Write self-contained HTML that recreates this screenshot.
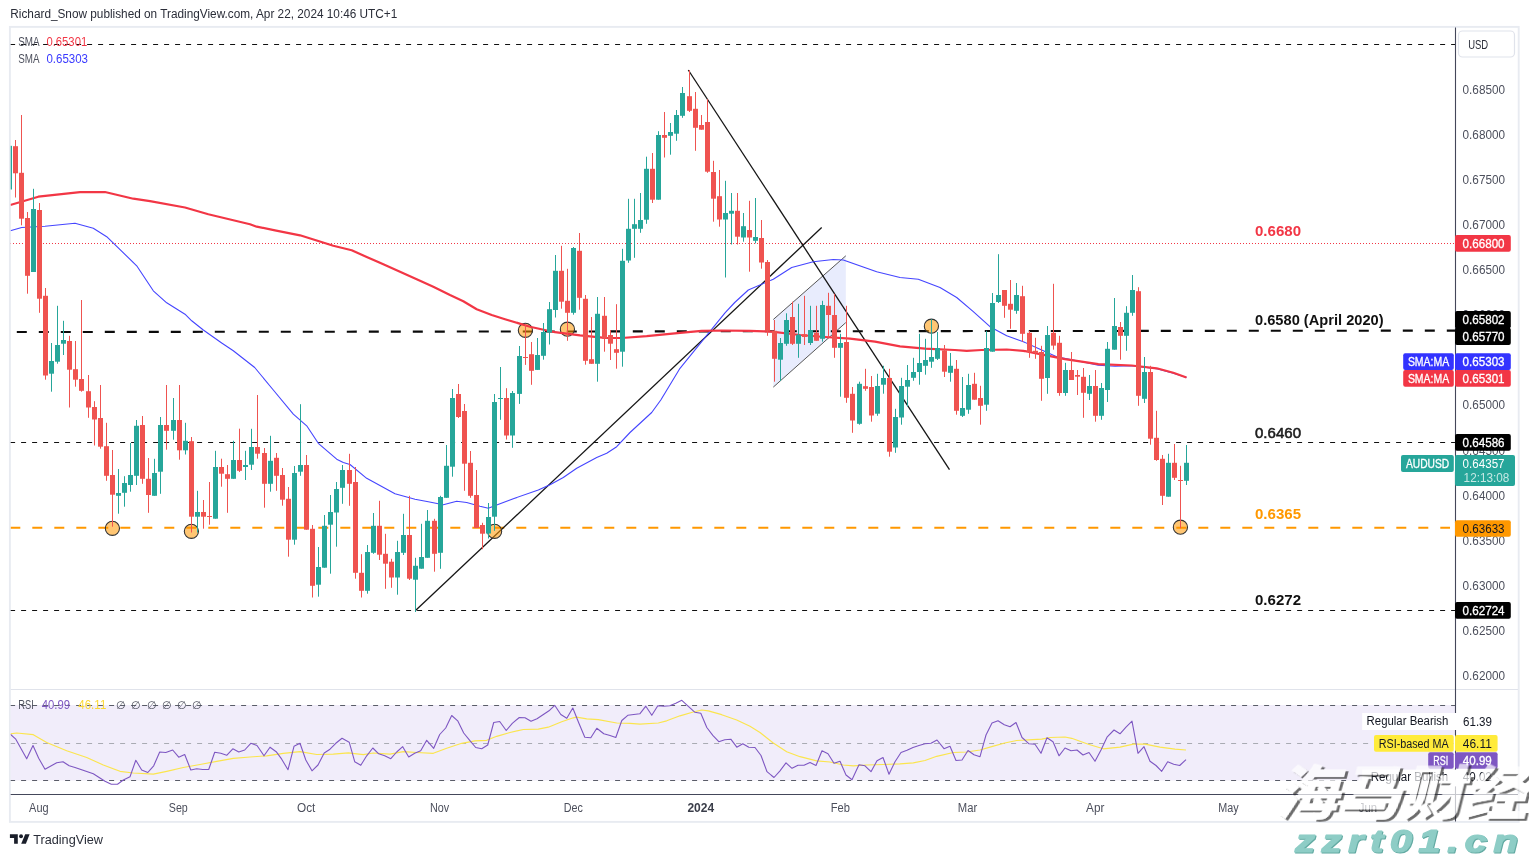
<!DOCTYPE html>
<html><head><meta charset="utf-8"><title>AUDUSD chart</title>
<style>html,body{margin:0;padding:0;background:#fff}svg{display:block}</style></head>
<body>
<svg width="1529" height="857" viewBox="0 0 1529 857" font-family='"Liberation Sans", sans-serif'>
<rect width="1529" height="857" fill="#fff"/>
<filter id="aa" x="0" y="0" width="100%" height="100%" filterUnits="userSpaceOnUse" color-interpolation-filters="sRGB"><feOffset dx="0" dy="0"/></filter>
<g filter="url(#aa)">
<text x="10.3" y="18.2" font-size="12" fill="#2a2d38" textLength="387" lengthAdjust="spacingAndGlyphs">Richard_Snow published on TradingView.com, Apr 22, 2024 10:46 UTC+1</text>
<rect x="9.9" y="26.9" width="1508.8" height="795" fill="none" stroke="#e8ebf1" stroke-width="1.9"/>
<defs><clipPath id="cm"><rect x="10.7" y="27.7" width="1444.3" height="661.5"/></clipPath><clipPath id="cr"><rect x="10.7" y="690" width="1444.3" height="104"/></clipPath></defs>
<rect x="10.7" y="705" width="1444.3" height="75.5" fill="#f1edfa"/>
<g clip-path="url(#cm)">
<line x1="10.1" x2="1455" y1="44.5" y2="44.5" stroke="#111" stroke-width="1.2" stroke-dasharray="5 6"/>
<line x1="10" x2="1455" y1="243.5" y2="243.5" stroke="#f23645" stroke-width="1" stroke-dasharray="1 2"/>
<line x1="10.1" x2="1455" y1="442.5" y2="442.5" stroke="#111" stroke-width="1.2" stroke-dasharray="5 6"/>
<line x1="10.1" x2="1455" y1="610.5" y2="610.5" stroke="#111" stroke-width="1.2" stroke-dasharray="5 6"/>
<polygon points="773.3,319.5 845.8,255.8 845.8,322.6 773.3,387.1" fill="#e8ecfd"/>
<line x1="773.3" y1="319.5" x2="845.8" y2="255.8" stroke="#555" stroke-width="1"/>
<line x1="773.3" y1="387.1" x2="845.8" y2="322.6" stroke="#555" stroke-width="1"/>
<line x1="16.8" x2="1455" y1="332" y2="330.6" stroke="#0a0a0a" stroke-width="2.1" stroke-dasharray="10 12"/>
<line x1="10.3" x2="1450" y1="527.8" y2="527.8" stroke="#ff9800" stroke-width="2" stroke-dasharray="10 12"/>
<line x1="415.8" y1="610.3" x2="821.7" y2="227.5" stroke="#151515" stroke-width="1.3"/>
<line x1="688.3" y1="70" x2="949.5" y2="469.7" stroke="#151515" stroke-width="1.3"/>
<circle cx="112.4" cy="528.3" r="7.1" fill="#ff9800" fill-opacity="0.55" stroke="#333" stroke-width="1.1"/>
<circle cx="191.4" cy="531.3" r="7.1" fill="#ff9800" fill-opacity="0.55" stroke="#333" stroke-width="1.1"/>
<circle cx="494.6" cy="531.3" r="7.1" fill="#ff9800" fill-opacity="0.55" stroke="#333" stroke-width="1.1"/>
<circle cx="525.4" cy="330.3" r="7.1" fill="#ff9800" fill-opacity="0.55" stroke="#333" stroke-width="1.1"/>
<circle cx="567.4" cy="329.2" r="7.1" fill="#ff9800" fill-opacity="0.55" stroke="#333" stroke-width="1.1"/>
<circle cx="931.4" cy="326.2" r="7.1" fill="#ff9800" fill-opacity="0.55" stroke="#333" stroke-width="1.1"/>
<circle cx="1180.4" cy="527.2" r="7.1" fill="#ff9800" fill-opacity="0.55" stroke="#333" stroke-width="1.1"/>
<polyline points="10.3,230.8 21.7,227.5 45.0,226.3 75.0,223.3 93.3,228.3 106.7,236.7 136.7,265.8 153.3,290.8 166.7,302.8 185.0,314.2 191.7,320.8 203.3,330.0 221.7,343.0 233.3,350.8 254.7,367.5 273.3,390.0 293.3,414.2 306.7,425.8 318.3,443.3 336.7,459.2 343.3,462.5 350.0,464.5 366.7,478.3 395.0,493.7 415.0,499.2 428.3,501.7 443.3,504.7 456.7,501.2 466.7,502.5 480.0,506.2 488.3,508.3 496.7,505.0 513.3,498.7 538.3,490.0 550.0,484.7 563.3,477.5 576.7,468.3 596.7,457.5 606.7,453.3 616.7,446.7 630.0,432.5 651.7,412.5 660.8,400.0 680.0,368.3 701.7,341.7 725.0,312.8 734.7,302.5 748.3,290.0 773.3,279.2 791.7,267.5 813.3,261.7 833.3,259.5 843.3,260.0 876.7,271.7 900.0,277.5 918.3,279.2 940.0,287.5 956.7,297.5 973.3,311.7 990.0,326.7 1006.7,335.8 1023.3,341.7 1040.0,349.2 1056.7,356.7 1073.3,360.0 1098.3,365.3 1115.0,366.2 1131.7,365.8 1156.7,368.7 1173.3,373.3 1186.5,377.5" fill="none" stroke="#4545ff" stroke-width="1.1" stroke-linejoin="round"/>
<polyline points="10.3,205.0 38.3,196.7 80.0,192.2 105.0,192.0 133.3,198.7 150.0,201.2 185.0,207.5 208.3,214.2 250.0,224.2 256.7,226.7 275.0,230.3 300.0,235.3 316.7,240.5 333.3,245.8 351.7,250.3 366.7,257.0 383.3,264.2 400.0,271.7 416.7,279.2 433.3,286.7 450.0,295.0 463.3,301.2 476.7,309.2 491.7,315.0 505.0,319.2 530.0,326.7 555.0,332.2 580.0,335.3 605.0,337.8 621.7,338.0 646.7,336.2 680.0,332.8 701.7,330.8 721.7,330.5 750.0,330.8 771.7,331.7 800.0,335.0 825.0,337.0 850.0,338.7 875.0,341.7 900.0,346.3 925.0,348.7 954.7,350.0 966.7,350.8 981.7,350.0 1006.7,349.5 1023.3,350.8 1040.0,354.2 1065.0,359.2 1098.3,364.2 1131.7,365.5 1156.7,368.3 1173.3,372.8 1186.5,377.5" fill="none" stroke="#f23645" stroke-width="2.2" stroke-linejoin="round"/>
<path d="M15.5 140.0V197.5" stroke="#ef5350" stroke-width="1"/><rect x="13" y="146.2" width="5" height="27.1" fill="#ef5350"/>
<path d="M21.5 115.0V225.3" stroke="#ef5350" stroke-width="1"/><rect x="19" y="172.8" width="5" height="45.9" fill="#ef5350"/>
<path d="M27.5 212.0V293.7" stroke="#ef5350" stroke-width="1"/><rect x="25" y="218.0" width="5" height="57.8" fill="#ef5350"/>
<path d="M33.5 188.8V272.0" stroke="#26a69a" stroke-width="1"/><rect x="31" y="209.0" width="5" height="63.0" fill="#26a69a"/>
<path d="M39.5 203.0V312.8" stroke="#ef5350" stroke-width="1"/><rect x="37" y="210.0" width="5" height="88.7" fill="#ef5350"/>
<path d="M45.5 288.0V379.7" stroke="#ef5350" stroke-width="1"/><rect x="43" y="295.8" width="5" height="79.7" fill="#ef5350"/>
<path d="M51.5 343.0V391.7" stroke="#26a69a" stroke-width="1"/><rect x="49" y="361.0" width="5" height="12.7" fill="#26a69a"/>
<path d="M57.5 305.8V363.7" stroke="#26a69a" stroke-width="1"/><rect x="55" y="345.0" width="5" height="16.7" fill="#26a69a"/>
<path d="M63.5 320.8V355.0" stroke="#26a69a" stroke-width="1"/><rect x="61" y="340.0" width="5" height="3.7" fill="#26a69a"/>
<path d="M69.5 335.8V407.5" stroke="#ef5350" stroke-width="1"/><rect x="67" y="341.0" width="5" height="28.7" fill="#ef5350"/>
<path d="M75.5 341.0V386.7" stroke="#ef5350" stroke-width="1"/><rect x="73" y="369.2" width="5" height="10.5" fill="#ef5350"/>
<path d="M81.5 300.0V391.7" stroke="#ef5350" stroke-width="1"/><rect x="79" y="379.0" width="5" height="11.8" fill="#ef5350"/>
<path d="M88.5 375.0V417.8" stroke="#ef5350" stroke-width="1"/><rect x="86" y="391.2" width="5" height="16.3" fill="#ef5350"/>
<path d="M94.5 401.2V445.5" stroke="#ef5350" stroke-width="1"/><rect x="92" y="407.0" width="5" height="12.5" fill="#ef5350"/>
<path d="M100.5 385.0V448.7" stroke="#ef5350" stroke-width="1"/><rect x="98" y="418.0" width="5" height="28.7" fill="#ef5350"/>
<path d="M106.5 422.8V480.8" stroke="#ef5350" stroke-width="1"/><rect x="104" y="446.2" width="5" height="29.6" fill="#ef5350"/>
<path d="M112.5 450.0V526.7" stroke="#ef5350" stroke-width="1"/><rect x="110" y="475.0" width="5" height="19.7" fill="#ef5350"/>
<path d="M118.5 469.0V513.7" stroke="#26a69a" stroke-width="1"/><rect x="116" y="493.0" width="5" height="2.8" fill="#26a69a"/>
<path d="M124.5 476.2V506.7" stroke="#26a69a" stroke-width="1"/><rect x="122" y="483.0" width="5" height="9.8" fill="#26a69a"/>
<path d="M130.5 443.0V491.7" stroke="#26a69a" stroke-width="1"/><rect x="128" y="475.0" width="5" height="10.0" fill="#26a69a"/>
<path d="M136.5 420.0V485.0" stroke="#26a69a" stroke-width="1"/><rect x="134" y="425.8" width="5" height="50.0" fill="#26a69a"/>
<path d="M142.5 416.0V483.8" stroke="#ef5350" stroke-width="1"/><rect x="140" y="425.0" width="5" height="53.8" fill="#ef5350"/>
<path d="M148.5 458.0V512.8" stroke="#ef5350" stroke-width="1"/><rect x="146" y="478.8" width="5" height="16.2" fill="#ef5350"/>
<path d="M154.5 458.8V495.8" stroke="#26a69a" stroke-width="1"/><rect x="152" y="473.0" width="5" height="22.8" fill="#26a69a"/>
<path d="M160.5 417.0V493.8" stroke="#26a69a" stroke-width="1"/><rect x="158" y="425.0" width="5" height="46.7" fill="#26a69a"/>
<path d="M166.5 385.0V449.7" stroke="#ef5350" stroke-width="1"/><rect x="164" y="425.0" width="5" height="5.8" fill="#ef5350"/>
<path d="M173.5 398.0V439.7" stroke="#26a69a" stroke-width="1"/><rect x="171" y="420.0" width="5" height="10.8" fill="#26a69a"/>
<path d="M179.5 385.0V459.7" stroke="#ef5350" stroke-width="1"/><rect x="177" y="420.0" width="5" height="30.3" fill="#ef5350"/>
<path d="M185.5 422.8V454.5" stroke="#26a69a" stroke-width="1"/><rect x="183" y="440.8" width="5" height="9.5" fill="#26a69a"/>
<path d="M191.5 437.0V532.5" stroke="#ef5350" stroke-width="1"/><rect x="189" y="441.2" width="5" height="75.5" fill="#ef5350"/>
<path d="M197.5 490.8V532.5" stroke="#26a69a" stroke-width="1"/><rect x="195" y="512.0" width="5" height="4.7" fill="#26a69a"/>
<path d="M203.5 500.0V528.7" stroke="#ef5350" stroke-width="1"/><rect x="201" y="512.0" width="5" height="4.7" fill="#ef5350"/>
<path d="M209.5 482.0V524.7" stroke="#ef5350" stroke-width="1"/><rect x="207" y="516.0" width="5" height="1.0" fill="#ef5350"/>
<path d="M215.5 450.8V518.7" stroke="#26a69a" stroke-width="1"/><rect x="213" y="467.0" width="5" height="51.7" fill="#26a69a"/>
<path d="M221.5 458.7V486.7" stroke="#ef5350" stroke-width="1"/><rect x="219" y="467.0" width="5" height="6.7" fill="#ef5350"/>
<path d="M227.5 465.0V512.8" stroke="#ef5350" stroke-width="1"/><rect x="225" y="474.2" width="5" height="4.6" fill="#ef5350"/>
<path d="M233.5 440.8V478.8" stroke="#26a69a" stroke-width="1"/><rect x="231" y="460.0" width="5" height="18.8" fill="#26a69a"/>
<path d="M239.5 428.7V472.0" stroke="#ef5350" stroke-width="1"/><rect x="237" y="460.0" width="5" height="10.8" fill="#ef5350"/>
<path d="M245.5 450.8V480.0" stroke="#26a69a" stroke-width="1"/><rect x="243" y="465.0" width="5" height="2.0" fill="#26a69a"/>
<path d="M251.5 428.8V470.0" stroke="#26a69a" stroke-width="1"/><rect x="249" y="447.0" width="5" height="17.7" fill="#26a69a"/>
<path d="M257.5 395.0V458.7" stroke="#ef5350" stroke-width="1"/><rect x="255" y="447.0" width="5" height="6.7" fill="#ef5350"/>
<path d="M264.5 448.0V507.7" stroke="#ef5350" stroke-width="1"/><rect x="262" y="453.0" width="5" height="30.8" fill="#ef5350"/>
<path d="M270.5 435.8V491.7" stroke="#26a69a" stroke-width="1"/><rect x="268" y="460.8" width="5" height="23.0" fill="#26a69a"/>
<path d="M276.5 453.0V490.8" stroke="#ef5350" stroke-width="1"/><rect x="274" y="457.8" width="5" height="18.0" fill="#ef5350"/>
<path d="M282.5 468.0V505.7" stroke="#ef5350" stroke-width="1"/><rect x="280" y="475.0" width="5" height="24.7" fill="#ef5350"/>
<path d="M288.5 487.0V556.7" stroke="#ef5350" stroke-width="1"/><rect x="286" y="498.8" width="5" height="40.9" fill="#ef5350"/>
<path d="M294.5 466.0V544.7" stroke="#26a69a" stroke-width="1"/><rect x="292" y="473.0" width="5" height="66.7" fill="#26a69a"/>
<path d="M300.5 404.2V475.8" stroke="#26a69a" stroke-width="1"/><rect x="298" y="465.0" width="5" height="6.7" fill="#26a69a"/>
<path d="M306.5 455.0V529.7" stroke="#ef5350" stroke-width="1"/><rect x="304" y="465.0" width="5" height="64.7" fill="#ef5350"/>
<path d="M312.5 525.0V597.5" stroke="#ef5350" stroke-width="1"/><rect x="310" y="528.8" width="5" height="57.0" fill="#ef5350"/>
<path d="M318.5 547.0V596.7" stroke="#26a69a" stroke-width="1"/><rect x="316" y="567.0" width="5" height="17.7" fill="#26a69a"/>
<path d="M324.5 515.0V567.7" stroke="#26a69a" stroke-width="1"/><rect x="322" y="525.8" width="5" height="41.9" fill="#26a69a"/>
<path d="M330.5 495.0V573.7" stroke="#26a69a" stroke-width="1"/><rect x="328" y="512.0" width="5" height="12.7" fill="#26a69a"/>
<path d="M336.5 482.0V546.7" stroke="#26a69a" stroke-width="1"/><rect x="334" y="489.0" width="5" height="23.5" fill="#26a69a"/>
<path d="M342.5 465.0V503.8" stroke="#26a69a" stroke-width="1"/><rect x="340" y="470.0" width="5" height="17.8" fill="#26a69a"/>
<path d="M349.5 453.8V505.8" stroke="#ef5350" stroke-width="1"/><rect x="347" y="470.0" width="5" height="13.8" fill="#ef5350"/>
<path d="M355.5 467.0V578.7" stroke="#ef5350" stroke-width="1"/><rect x="353" y="482.0" width="5" height="90.8" fill="#ef5350"/>
<path d="M361.5 554.2V597.5" stroke="#ef5350" stroke-width="1"/><rect x="359" y="572.8" width="5" height="18.0" fill="#ef5350"/>
<path d="M367.5 545.0V593.7" stroke="#26a69a" stroke-width="1"/><rect x="365" y="552.0" width="5" height="38.8" fill="#26a69a"/>
<path d="M373.5 513.0V553.8" stroke="#26a69a" stroke-width="1"/><rect x="371" y="525.8" width="5" height="27.0" fill="#26a69a"/>
<path d="M379.5 500.8V560.0" stroke="#ef5350" stroke-width="1"/><rect x="377" y="525.8" width="5" height="28.9" fill="#ef5350"/>
<path d="M385.5 533.8V588.8" stroke="#ef5350" stroke-width="1"/><rect x="383" y="553.8" width="5" height="9.9" fill="#ef5350"/>
<path d="M391.5 558.8V587.8" stroke="#ef5350" stroke-width="1"/><rect x="389" y="561.7" width="5" height="15.8" fill="#ef5350"/>
<path d="M397.5 540.8V594.7" stroke="#26a69a" stroke-width="1"/><rect x="395" y="552.0" width="5" height="25.5" fill="#26a69a"/>
<path d="M403.5 513.8V555.0" stroke="#26a69a" stroke-width="1"/><rect x="401" y="535.0" width="5" height="17.8" fill="#26a69a"/>
<path d="M409.5 495.8V580.0" stroke="#ef5350" stroke-width="1"/><rect x="407" y="535.0" width="5" height="43.7" fill="#ef5350"/>
<path d="M415.5 557.8V612.0" stroke="#26a69a" stroke-width="1"/><rect x="413" y="565.8" width="5" height="13.9" fill="#26a69a"/>
<path d="M421.5 523.8V568.7" stroke="#26a69a" stroke-width="1"/><rect x="419" y="557.0" width="5" height="11.7" fill="#26a69a"/>
<path d="M427.5 510.0V557.8" stroke="#26a69a" stroke-width="1"/><rect x="425" y="520.8" width="5" height="37.0" fill="#26a69a"/>
<path d="M434.5 518.8V571.7" stroke="#ef5350" stroke-width="1"/><rect x="432" y="520.8" width="5" height="33.0" fill="#ef5350"/>
<path d="M440.5 495.8V568.8" stroke="#26a69a" stroke-width="1"/><rect x="438" y="497.0" width="5" height="55.8" fill="#26a69a"/>
<path d="M446.5 445.0V497.8" stroke="#26a69a" stroke-width="1"/><rect x="444" y="465.8" width="5" height="32.0" fill="#26a69a"/>
<path d="M452.5 389.0V476.7" stroke="#26a69a" stroke-width="1"/><rect x="450" y="398.0" width="5" height="68.7" fill="#26a69a"/>
<path d="M458.5 384.0V418.0" stroke="#ef5350" stroke-width="1"/><rect x="456" y="394.0" width="5" height="23.0" fill="#ef5350"/>
<path d="M464.5 404.0V490.8" stroke="#ef5350" stroke-width="1"/><rect x="462" y="411.0" width="5" height="52.7" fill="#ef5350"/>
<path d="M470.5 451.0V497.8" stroke="#ef5350" stroke-width="1"/><rect x="468" y="462.8" width="5" height="33.0" fill="#ef5350"/>
<path d="M476.5 470.0V528.0" stroke="#ef5350" stroke-width="1"/><rect x="474" y="495.0" width="5" height="33.0" fill="#ef5350"/>
<path d="M482.5 522.8V549.2" stroke="#ef5350" stroke-width="1"/><rect x="480" y="525.0" width="5" height="8.7" fill="#ef5350"/>
<path d="M488.5 503.0V538.5" stroke="#26a69a" stroke-width="1"/><rect x="486" y="517.0" width="5" height="16.5" fill="#26a69a"/>
<path d="M494.5 394.0V530.8" stroke="#26a69a" stroke-width="1"/><rect x="492" y="402.0" width="5" height="114.7" fill="#26a69a"/>
<path d="M500.5 367.0V419.8" stroke="#26a69a" stroke-width="1"/><rect x="498" y="398.0" width="5" height="1.0" fill="#26a69a"/>
<path d="M506.5 388.2V439.5" stroke="#ef5350" stroke-width="1"/><rect x="504" y="398.0" width="5" height="37.5" fill="#ef5350"/>
<path d="M512.5 391.0V447.8" stroke="#26a69a" stroke-width="1"/><rect x="510" y="393.0" width="5" height="42.5" fill="#26a69a"/>
<path d="M519.5 346.0V403.9" stroke="#26a69a" stroke-width="1"/><rect x="517" y="356.0" width="5" height="37.9" fill="#26a69a"/>
<path d="M525.5 325.0V364.9" stroke="#ef5350" stroke-width="1"/><rect x="523" y="357.0" width="5" height="1.0" fill="#ef5350"/>
<path d="M531.5 342.0V384.8" stroke="#ef5350" stroke-width="1"/><rect x="529" y="354.2" width="5" height="16.6" fill="#ef5350"/>
<path d="M537.5 338.0V369.9" stroke="#26a69a" stroke-width="1"/><rect x="535" y="355.0" width="5" height="14.9" fill="#26a69a"/>
<path d="M543.5 323.0V359.7" stroke="#26a69a" stroke-width="1"/><rect x="541" y="332.0" width="5" height="23.8" fill="#26a69a"/>
<path d="M549.5 302.0V344.5" stroke="#26a69a" stroke-width="1"/><rect x="547" y="309.2" width="5" height="23.3" fill="#26a69a"/>
<path d="M555.5 255.0V317.5" stroke="#26a69a" stroke-width="1"/><rect x="553" y="270.8" width="5" height="39.2" fill="#26a69a"/>
<path d="M561.5 245.8V308.7" stroke="#ef5350" stroke-width="1"/><rect x="559" y="270.8" width="5" height="30.9" fill="#ef5350"/>
<path d="M567.5 268.8V340.8" stroke="#ef5350" stroke-width="1"/><rect x="565" y="300.8" width="5" height="12.0" fill="#ef5350"/>
<path d="M573.5 247.0V314.7" stroke="#26a69a" stroke-width="1"/><rect x="571" y="248.0" width="5" height="64.8" fill="#26a69a"/>
<path d="M579.5 233.0V309.7" stroke="#ef5350" stroke-width="1"/><rect x="577" y="250.8" width="5" height="47.0" fill="#ef5350"/>
<path d="M585.5 295.0V364.7" stroke="#ef5350" stroke-width="1"/><rect x="583" y="298.8" width="5" height="62.0" fill="#ef5350"/>
<path d="M591.5 317.0V363.8" stroke="#ef5350" stroke-width="1"/><rect x="589" y="359.2" width="5" height="4.6" fill="#ef5350"/>
<path d="M597.5 297.0V381.7" stroke="#26a69a" stroke-width="1"/><rect x="595" y="313.8" width="5" height="50.0" fill="#26a69a"/>
<path d="M604.5 297.0V351.7" stroke="#ef5350" stroke-width="1"/><rect x="602" y="315.8" width="5" height="22.9" fill="#ef5350"/>
<path d="M610.5 330.0V360.0" stroke="#ef5350" stroke-width="1"/><rect x="608" y="335.0" width="5" height="8.7" fill="#ef5350"/>
<path d="M616.5 304.2V368.7" stroke="#ef5350" stroke-width="1"/><rect x="614" y="349.2" width="5" height="3.6" fill="#ef5350"/>
<path d="M622.5 248.8V366.7" stroke="#26a69a" stroke-width="1"/><rect x="620" y="260.8" width="5" height="90.9" fill="#26a69a"/>
<path d="M628.5 198.8V262.8" stroke="#26a69a" stroke-width="1"/><rect x="626" y="228.8" width="5" height="31.7" fill="#26a69a"/>
<path d="M634.5 198.8V257.8" stroke="#26a69a" stroke-width="1"/><rect x="632" y="224.2" width="5" height="4.6" fill="#26a69a"/>
<path d="M640.5 193.0V232.8" stroke="#26a69a" stroke-width="1"/><rect x="638" y="220.0" width="5" height="8.8" fill="#26a69a"/>
<path d="M646.5 156.7V223.8" stroke="#26a69a" stroke-width="1"/><rect x="644" y="168.8" width="5" height="50.9" fill="#26a69a"/>
<path d="M652.5 153.0V203.0" stroke="#ef5350" stroke-width="1"/><rect x="650" y="168.8" width="5" height="30.9" fill="#ef5350"/>
<path d="M658.5 131.2V199.7" stroke="#26a69a" stroke-width="1"/><rect x="656" y="135.0" width="5" height="64.7" fill="#26a69a"/>
<path d="M664.5 112.0V157.5" stroke="#ef5350" stroke-width="1"/><rect x="662" y="135.0" width="5" height="2.8" fill="#ef5350"/>
<path d="M670.5 123.0V154.7" stroke="#26a69a" stroke-width="1"/><rect x="668" y="132.0" width="5" height="3.8" fill="#26a69a"/>
<path d="M676.5 110.0V140.8" stroke="#26a69a" stroke-width="1"/><rect x="674" y="115.0" width="5" height="18.7" fill="#26a69a"/>
<path d="M682.5 87.0V117.8" stroke="#26a69a" stroke-width="1"/><rect x="680" y="93.0" width="5" height="22.8" fill="#26a69a"/>
<path d="M689.5 70.0V112.0" stroke="#ef5350" stroke-width="1"/><rect x="687" y="96.2" width="5" height="14.6" fill="#ef5350"/>
<path d="M695.5 92.0V150.8" stroke="#ef5350" stroke-width="1"/><rect x="693" y="108.8" width="5" height="19.0" fill="#ef5350"/>
<path d="M701.5 115.0V129.7" stroke="#ef5350" stroke-width="1"/><rect x="699" y="125.0" width="5" height="4.7" fill="#ef5350"/>
<path d="M707.5 99.2V172.8" stroke="#ef5350" stroke-width="1"/><rect x="705" y="122.0" width="5" height="49.7" fill="#ef5350"/>
<path d="M713.5 160.8V221.7" stroke="#ef5350" stroke-width="1"/><rect x="711" y="172.0" width="5" height="26.7" fill="#ef5350"/>
<path d="M719.5 170.0V226.7" stroke="#ef5350" stroke-width="1"/><rect x="717" y="196.2" width="5" height="23.3" fill="#ef5350"/>
<path d="M725.5 180.8V277.5" stroke="#26a69a" stroke-width="1"/><rect x="723" y="213.0" width="5" height="6.5" fill="#26a69a"/>
<path d="M731.5 193.0V244.5" stroke="#26a69a" stroke-width="1"/><rect x="729" y="210.8" width="5" height="2.9" fill="#26a69a"/>
<path d="M737.5 193.0V244.5" stroke="#ef5350" stroke-width="1"/><rect x="735" y="210.8" width="5" height="25.9" fill="#ef5350"/>
<path d="M743.5 213.0V241.7" stroke="#26a69a" stroke-width="1"/><rect x="741" y="226.2" width="5" height="11.3" fill="#26a69a"/>
<path d="M749.5 200.8V271.7" stroke="#ef5350" stroke-width="1"/><rect x="747" y="230.0" width="5" height="7.5" fill="#ef5350"/>
<path d="M755.5 198.0V243.3" stroke="#26a69a" stroke-width="1"/><rect x="753" y="237.0" width="5" height="3.8" fill="#26a69a"/>
<path d="M761.5 220.0V268.7" stroke="#ef5350" stroke-width="1"/><rect x="759" y="238.0" width="5" height="24.5" fill="#ef5350"/>
<path d="M767.5 260.0V335.8" stroke="#ef5350" stroke-width="1"/><rect x="765" y="262.0" width="5" height="68.8" fill="#ef5350"/>
<path d="M774.5 320.0V381.7" stroke="#ef5350" stroke-width="1"/><rect x="772" y="330.8" width="5" height="28.0" fill="#ef5350"/>
<path d="M780.5 338.0V380.8" stroke="#26a69a" stroke-width="1"/><rect x="778" y="343.0" width="5" height="16.7" fill="#26a69a"/>
<path d="M786.5 313.3V345.8" stroke="#26a69a" stroke-width="1"/><rect x="784" y="320.0" width="5" height="23.8" fill="#26a69a"/>
<path d="M792.5 301.7V345.0" stroke="#ef5350" stroke-width="1"/><rect x="790" y="317.0" width="5" height="26.8" fill="#ef5350"/>
<path d="M798.5 303.8V357.8" stroke="#26a69a" stroke-width="1"/><rect x="796" y="334.7" width="5" height="9.1" fill="#26a69a"/>
<path d="M804.5 295.8V345.0" stroke="#ef5350" stroke-width="1"/><rect x="802" y="334.2" width="5" height="2.8" fill="#ef5350"/>
<path d="M810.5 305.8V345.0" stroke="#26a69a" stroke-width="1"/><rect x="808" y="330.0" width="5" height="13.0" fill="#26a69a"/>
<path d="M816.5 305.8V340.8" stroke="#ef5350" stroke-width="1"/><rect x="814" y="332.8" width="5" height="8.0" fill="#ef5350"/>
<path d="M822.5 300.8V341.7" stroke="#26a69a" stroke-width="1"/><rect x="820" y="305.0" width="5" height="33.8" fill="#26a69a"/>
<path d="M828.5 292.8V338.3" stroke="#ef5350" stroke-width="1"/><rect x="826" y="305.8" width="5" height="9.2" fill="#ef5350"/>
<path d="M834.5 293.8V357.8" stroke="#ef5350" stroke-width="1"/><rect x="832" y="315.0" width="5" height="32.8" fill="#ef5350"/>
<path d="M840.5 333.8V396.7" stroke="#26a69a" stroke-width="1"/><rect x="838" y="343.0" width="5" height="4.8" fill="#26a69a"/>
<path d="M846.5 305.8V402.8" stroke="#ef5350" stroke-width="1"/><rect x="844" y="342.0" width="5" height="55.8" fill="#ef5350"/>
<path d="M852.5 387.0V432.8" stroke="#ef5350" stroke-width="1"/><rect x="850" y="393.8" width="5" height="26.7" fill="#ef5350"/>
<path d="M859.5 381.7V424.7" stroke="#26a69a" stroke-width="1"/><rect x="857" y="383.8" width="5" height="40.0" fill="#26a69a"/>
<path d="M865.5 368.8V390.8" stroke="#ef5350" stroke-width="1"/><rect x="863" y="386.2" width="5" height="2.6" fill="#ef5350"/>
<path d="M871.5 376.0V421.7" stroke="#ef5350" stroke-width="1"/><rect x="869" y="387.0" width="5" height="28.5" fill="#ef5350"/>
<path d="M877.5 373.8V415.8" stroke="#26a69a" stroke-width="1"/><rect x="875" y="386.0" width="5" height="27.7" fill="#26a69a"/>
<path d="M883.5 365.8V393.7" stroke="#26a69a" stroke-width="1"/><rect x="881" y="378.0" width="5" height="6.7" fill="#26a69a"/>
<path d="M889.5 368.8V456.7" stroke="#ef5350" stroke-width="1"/><rect x="887" y="378.0" width="5" height="73.7" fill="#ef5350"/>
<path d="M895.5 408.8V452.8" stroke="#26a69a" stroke-width="1"/><rect x="893" y="417.0" width="5" height="30.5" fill="#26a69a"/>
<path d="M901.5 377.8V424.7" stroke="#26a69a" stroke-width="1"/><rect x="899" y="386.0" width="5" height="31.5" fill="#26a69a"/>
<path d="M907.5 365.0V406.7" stroke="#26a69a" stroke-width="1"/><rect x="905" y="380.0" width="5" height="6.7" fill="#26a69a"/>
<path d="M913.5 357.8V380.8" stroke="#26a69a" stroke-width="1"/><rect x="911" y="372.0" width="5" height="5.8" fill="#26a69a"/>
<path d="M919.5 333.8V384.7" stroke="#26a69a" stroke-width="1"/><rect x="917" y="363.0" width="5" height="9.0" fill="#26a69a"/>
<path d="M925.5 338.8V374.7" stroke="#26a69a" stroke-width="1"/><rect x="923" y="360.0" width="5" height="5.8" fill="#26a69a"/>
<path d="M931.5 319.2V367.8" stroke="#26a69a" stroke-width="1"/><rect x="929" y="357.0" width="5" height="4.7" fill="#26a69a"/>
<path d="M937.5 332.0V360.0" stroke="#26a69a" stroke-width="1"/><rect x="935" y="348.0" width="5" height="10.8" fill="#26a69a"/>
<path d="M944.5 345.0V377.0" stroke="#ef5350" stroke-width="1"/><rect x="942" y="350.4" width="5" height="21.3" fill="#ef5350"/>
<path d="M950.5 353.0V381.7" stroke="#26a69a" stroke-width="1"/><rect x="948" y="365.8" width="5" height="7.0" fill="#26a69a"/>
<path d="M956.5 360.0V414.7" stroke="#ef5350" stroke-width="1"/><rect x="954" y="368.8" width="5" height="42.0" fill="#ef5350"/>
<path d="M962.5 377.0V417.0" stroke="#26a69a" stroke-width="1"/><rect x="960" y="408.0" width="5" height="7.8" fill="#26a69a"/>
<path d="M968.5 373.8V413.8" stroke="#26a69a" stroke-width="1"/><rect x="966" y="385.0" width="5" height="24.7" fill="#26a69a"/>
<path d="M974.5 372.8V399.7" stroke="#ef5350" stroke-width="1"/><rect x="972" y="383.8" width="5" height="15.9" fill="#ef5350"/>
<path d="M980.5 385.8V424.7" stroke="#ef5350" stroke-width="1"/><rect x="978" y="398.0" width="5" height="7.8" fill="#ef5350"/>
<path d="M986.5 330.8V410.8" stroke="#26a69a" stroke-width="1"/><rect x="984" y="348.0" width="5" height="56.7" fill="#26a69a"/>
<path d="M992.5 293.0V351.7" stroke="#26a69a" stroke-width="1"/><rect x="990" y="303.0" width="5" height="48.7" fill="#26a69a"/>
<path d="M998.5 254.2V303.0" stroke="#26a69a" stroke-width="1"/><rect x="996" y="295.0" width="5" height="7.0" fill="#26a69a"/>
<path d="M1004.5 290.0V317.8" stroke="#ef5350" stroke-width="1"/><rect x="1002" y="290.0" width="5" height="15.8" fill="#ef5350"/>
<path d="M1010.5 280.0V328.8" stroke="#ef5350" stroke-width="1"/><rect x="1008" y="303.8" width="5" height="5.9" fill="#ef5350"/>
<path d="M1016.5 283.0V313.8" stroke="#26a69a" stroke-width="1"/><rect x="1014" y="295.0" width="5" height="15.8" fill="#26a69a"/>
<path d="M1022.5 285.8V341.7" stroke="#ef5350" stroke-width="1"/><rect x="1020" y="296.2" width="5" height="37.6" fill="#ef5350"/>
<path d="M1029.5 330.8V357.8" stroke="#ef5350" stroke-width="1"/><rect x="1027" y="332.8" width="5" height="19.2" fill="#ef5350"/>
<path d="M1035.5 337.8V358.8" stroke="#ef5350" stroke-width="1"/><rect x="1033" y="350.8" width="5" height="2.0" fill="#ef5350"/>
<path d="M1041.5 345.8V400.8" stroke="#ef5350" stroke-width="1"/><rect x="1039" y="352.0" width="5" height="26.8" fill="#ef5350"/>
<path d="M1047.5 326.0V393.8" stroke="#26a69a" stroke-width="1"/><rect x="1045" y="335.0" width="5" height="43.0" fill="#26a69a"/>
<path d="M1053.5 283.8V349.7" stroke="#ef5350" stroke-width="1"/><rect x="1051" y="332.8" width="5" height="12.8" fill="#ef5350"/>
<path d="M1059.5 335.8V395.8" stroke="#ef5350" stroke-width="1"/><rect x="1057" y="342.8" width="5" height="50.2" fill="#ef5350"/>
<path d="M1065.5 362.8V395.8" stroke="#26a69a" stroke-width="1"/><rect x="1063" y="370.0" width="5" height="23.0" fill="#26a69a"/>
<path d="M1071.5 352.0V380.0" stroke="#ef5350" stroke-width="1"/><rect x="1069" y="370.0" width="5" height="10.0" fill="#ef5350"/>
<path d="M1077.5 370.0V395.0" stroke="#ef5350" stroke-width="1"/><rect x="1075" y="375.0" width="5" height="1.7" fill="#ef5350"/>
<path d="M1083.5 368.0V417.8" stroke="#ef5350" stroke-width="1"/><rect x="1081" y="376.8" width="5" height="16.0" fill="#ef5350"/>
<path d="M1089.5 375.0V400.0" stroke="#26a69a" stroke-width="1"/><rect x="1087" y="386.0" width="5" height="7.8" fill="#26a69a"/>
<path d="M1095.5 370.0V421.7" stroke="#ef5350" stroke-width="1"/><rect x="1093" y="386.0" width="5" height="29.8" fill="#ef5350"/>
<path d="M1101.5 383.0V419.8" stroke="#26a69a" stroke-width="1"/><rect x="1099" y="388.0" width="5" height="27.8" fill="#26a69a"/>
<path d="M1107.5 342.0V402.0" stroke="#26a69a" stroke-width="1"/><rect x="1105" y="348.8" width="5" height="41.2" fill="#26a69a"/>
<path d="M1114.5 298.0V349.7" stroke="#26a69a" stroke-width="1"/><rect x="1112" y="326.0" width="5" height="23.7" fill="#26a69a"/>
<path d="M1120.5 322.0V359.7" stroke="#ef5350" stroke-width="1"/><rect x="1118" y="327.0" width="5" height="8.8" fill="#ef5350"/>
<path d="M1126.5 306.2V350.8" stroke="#26a69a" stroke-width="1"/><rect x="1124" y="312.8" width="5" height="23.0" fill="#26a69a"/>
<path d="M1132.5 275.0V315.8" stroke="#26a69a" stroke-width="1"/><rect x="1130" y="290.0" width="5" height="22.8" fill="#26a69a"/>
<path d="M1138.5 287.2V405.8" stroke="#ef5350" stroke-width="1"/><rect x="1136" y="291.2" width="5" height="104.6" fill="#ef5350"/>
<path d="M1144.5 357.0V403.0" stroke="#26a69a" stroke-width="1"/><rect x="1142" y="372.0" width="5" height="26.8" fill="#26a69a"/>
<path d="M1150.5 365.8V444.7" stroke="#ef5350" stroke-width="1"/><rect x="1148" y="372.0" width="5" height="66.7" fill="#ef5350"/>
<path d="M1156.5 410.8V460.8" stroke="#ef5350" stroke-width="1"/><rect x="1154" y="437.8" width="5" height="22.2" fill="#ef5350"/>
<path d="M1162.5 455.0V505.0" stroke="#ef5350" stroke-width="1"/><rect x="1160" y="458.8" width="5" height="37.0" fill="#ef5350"/>
<path d="M1168.5 453.8V496.7" stroke="#26a69a" stroke-width="1"/><rect x="1166" y="462.8" width="5" height="33.9" fill="#26a69a"/>
<path d="M1174.5 444.0V480.0" stroke="#ef5350" stroke-width="1"/><rect x="1172" y="462.8" width="5" height="15.0" fill="#ef5350"/>
<path d="M1180.5 465.8V528.3" stroke="#ef5350" stroke-width="1"/><rect x="1178" y="480.0" width="5" height="1.0" fill="#ef5350"/>
<path d="M1186.5 445.0V485.0" stroke="#26a69a" stroke-width="1"/><rect x="1184" y="462.8" width="5" height="18.0" fill="#26a69a"/>
<rect x="7" y="145.8" width="5" height="43.7" fill="#26a69a"/>
<text x="1255" y="236" font-size="14" fill="#f23645" font-weight="bold" textLength="46" lengthAdjust="spacingAndGlyphs">0.6680</text>
<text x="1255" y="325" font-size="14" fill="#111" font-weight="bold" textLength="128.6" lengthAdjust="spacingAndGlyphs">0.6580 (April 2020)</text>
<text x="1255" y="437.8" font-size="14" fill="#1c1c1c" textLength="46" lengthAdjust="spacingAndGlyphs" stroke="#1c1c1c" stroke-width="0.55">0.6460</text>
<text x="1255" y="518.5" font-size="14" fill="#ff9800" font-weight="bold" textLength="46" lengthAdjust="spacingAndGlyphs">0.6365</text>
<text x="1255" y="605" font-size="14" fill="#111" font-weight="bold" textLength="46" lengthAdjust="spacingAndGlyphs">0.6272</text>
</g>
<text x="18.2" y="45.5" font-size="12" fill="#4c4f5c" textLength="21.3" lengthAdjust="spacingAndGlyphs">SMA</text>
<text x="46.4" y="45.5" font-size="12" fill="#f23645" textLength="40.8" lengthAdjust="spacingAndGlyphs">0.65301</text>
<text x="18.2" y="62.8" font-size="12" fill="#4c4f5c" textLength="21.3" lengthAdjust="spacingAndGlyphs">SMA</text>
<text x="46.4" y="62.8" font-size="12" fill="#3838ff" textLength="41.6" lengthAdjust="spacingAndGlyphs">0.65303</text>
<line x1="10.7" x2="1518" y1="689.5" y2="689.5" stroke="#e0e3eb" stroke-width="1.2"/>
<g clip-path="url(#cr)">
<line x1="10.1" x2="1455" y1="705.5" y2="705.5" stroke="#5a5d68" stroke-width="1.2" stroke-dasharray="5 6"/>
<line x1="10.1" x2="1455" y1="743.5" y2="743.5" stroke="#a9abb3" stroke-width="1.2" stroke-dasharray="5 6"/>
<line x1="10.1" x2="1455" y1="780.5" y2="780.5" stroke="#5a5d68" stroke-width="1.2" stroke-dasharray="5 6"/>
<polyline points="10.3,733.8 16.7,733.0 33.3,734.7 46.7,742.5 66.7,750.8 86.7,757.5 103.3,765.0 120.0,771.3 133.3,773.0 153.3,774.2 166.7,771.3 183.3,767.5 200.0,764.5 216.7,761.3 233.3,758.3 250.0,757.0 266.7,755.8 283.3,753.3 300.0,751.7 316.7,754.5 333.3,754.2 348.3,752.8 363.3,754.7 373.3,753.0 390.0,754.2 403.3,751.7 416.7,752.5 433.3,753.3 446.7,748.3 461.7,743.3 475.0,740.8 486.7,740.3 496.7,736.3 510.0,732.5 523.3,729.5 538.3,729.2 548.3,727.2 561.7,721.7 573.3,717.8 576.7,717.2 586.7,718.8 598.3,719.7 616.7,723.0 630.0,723.3 640.0,724.2 658.3,723.0 666.7,720.8 680.0,715.8 693.3,712.0 701.7,710.0 708.3,710.8 721.7,714.7 736.7,720.0 750.0,726.3 760.0,732.5 773.3,743.0 786.7,751.7 800.0,756.7 816.7,760.8 830.0,762.0 843.3,765.0 853.3,765.8 866.7,765.0 883.3,764.5 900.0,763.8 913.3,762.8 925.0,760.5 936.7,756.3 953.3,752.5 966.7,752.0 980.0,750.0 991.7,746.7 1004.7,743.0 1016.7,740.5 1041.7,739.2 1050.0,737.5 1065.0,737.0 1071.7,738.3 1088.3,744.2 1103.3,748.8 1120.0,747.2 1133.3,744.2 1145.0,744.2 1160.0,747.2 1175.0,749.2 1186.0,750.0" fill="none" stroke="#fbe54e" stroke-width="1.2" stroke-linejoin="round"/>
<polyline points="10.3,734.2 15.8,739.2 26.7,758.8 33.0,745.5 38.7,758.3 45.0,769.2 56.7,762.8 63.0,761.7 69.2,765.8 75.0,767.5 93.3,773.7 105.0,781.2 111.3,784.2 117.5,784.2 123.3,780.0 130.0,776.7 135.8,760.3 141.7,770.0 147.8,772.5 153.7,765.8 159.7,752.0 165.8,752.5 172.7,750.0 178.7,757.2 184.7,754.5 190.8,770.0 196.7,768.8 202.7,769.5 208.7,769.5 214.7,752.2 220.8,753.3 226.7,755.3 232.8,748.8 238.8,752.0 244.7,750.0 250.8,743.3 257.0,745.5 264.0,755.8 270.0,747.2 276.2,751.7 281.7,759.2 288.0,769.7 294.0,746.3 300.0,743.3 305.8,760.0 312.0,770.8 318.0,765.0 324.2,753.0 330.0,749.2 335.8,743.3 342.0,738.3 349.2,742.2 354.7,761.7 360.8,765.3 366.7,755.8 372.8,748.0 378.7,753.8 384.7,755.8 390.8,758.7 396.7,752.0 402.7,746.7 408.7,757.0 414.7,753.3 420.7,750.8 426.7,740.3 433.7,748.3 439.7,734.5 445.7,728.0 451.7,715.5 457.7,720.8 463.7,733.0 469.7,740.3 475.7,747.5 481.7,748.7 487.7,745.0 493.7,722.5 499.7,721.5 506.2,730.5 512.3,723.3 519.3,717.5 525.0,717.8 531.0,721.3 537.0,718.7 543.0,714.7 549.0,710.8 554.7,705.3 560.8,714.5 566.8,718.3 572.8,708.0 578.8,723.0 584.8,737.2 590.8,737.8 596.8,728.3 603.8,733.8 610.0,735.5 615.8,737.5 621.8,720.5 627.8,715.3 633.8,714.5 639.8,713.8 645.8,706.2 651.8,715.3 657.8,705.8 663.8,706.3 669.8,705.8 675.8,703.3 681.8,700.3 687.8,705.8 694.7,712.2 700.8,713.3 706.8,727.5 712.8,735.3 718.8,741.7 724.8,739.7 730.8,739.2 736.8,747.2 742.8,743.8 748.8,747.2 755.0,747.5 761.0,755.5 767.0,771.7 774.0,777.5 780.0,770.8 786.0,762.8 792.0,768.3 798.0,765.3 804.0,765.3 810.0,762.5 816.0,765.5 822.0,750.8 828.0,753.8 834.0,763.3 840.0,761.3 846.0,775.0 852.0,779.7 859.0,764.7 865.0,765.8 871.0,771.7 877.0,760.8 883.0,757.5 889.0,774.2 895.0,761.7 901.0,752.5 907.0,750.3 913.0,747.5 919.0,745.5 925.0,743.8 931.0,743.3 937.0,740.0 944.0,748.7 950.0,746.3 956.0,760.5 962.0,760.0 968.0,750.5 974.0,754.7 980.0,756.7 986.0,735.0 992.0,723.0 998.0,720.8 1004.3,724.7 1010.0,726.7 1016.0,722.5 1022.0,737.5 1029.0,743.8 1035.0,744.2 1041.0,753.3 1047.0,737.8 1053.0,741.7 1059.0,755.8 1065.0,748.0 1071.0,750.8 1077.0,750.0 1083.0,755.0 1089.0,752.5 1095.0,761.3 1101.0,750.0 1107.0,737.2 1114.0,730.0 1120.0,733.8 1126.0,727.2 1132.0,721.2 1138.0,753.3 1144.0,746.7 1150.0,761.2 1156.0,765.5 1161.7,771.3 1167.7,761.7 1173.7,764.2 1179.7,765.5 1186.0,759.7" fill="none" stroke="#7e57c2" stroke-width="1.1" stroke-linejoin="round"/>
</g>
<text x="18.3" y="709.2" font-size="12" fill="#4c4f5c" textLength="15.5" lengthAdjust="spacingAndGlyphs">RSI</text>
<text x="41.7" y="709.2" font-size="12" fill="#7e57c2" textLength="28.3" lengthAdjust="spacingAndGlyphs">40.99</text>
<text x="78.3" y="709.2" font-size="12" fill="#fbd835" textLength="28" lengthAdjust="spacingAndGlyphs">46.11</text>
<text x="115.9" y="708.8" font-size="11" fill="#4c4f5c">∅</text>
<text x="131.2" y="708.8" font-size="11" fill="#4c4f5c">∅</text>
<text x="146.5" y="708.8" font-size="11" fill="#4c4f5c">∅</text>
<text x="161.8" y="708.8" font-size="11" fill="#4c4f5c">∅</text>
<text x="177.1" y="708.8" font-size="11" fill="#4c4f5c">∅</text>
<text x="192.4" y="708.8" font-size="11" fill="#4c4f5c">∅</text>
<line x1="10.7" x2="1518" y1="794.5" y2="794.5" stroke="#44475a" stroke-width="1.2"/>
<text x="29.1" y="811.9" font-size="12" fill="#4c4f5c" textLength="19.5" lengthAdjust="spacingAndGlyphs">Aug</text>
<text x="168.8" y="811.9" font-size="12" fill="#4c4f5c" textLength="19" lengthAdjust="spacingAndGlyphs">Sep</text>
<text x="297.1" y="811.9" font-size="12" fill="#4c4f5c" textLength="18.3" lengthAdjust="spacingAndGlyphs">Oct</text>
<text x="430.0" y="811.9" font-size="12" fill="#4c4f5c" textLength="19.2" lengthAdjust="spacingAndGlyphs">Nov</text>
<text x="563.8" y="811.9" font-size="12" fill="#4c4f5c" textLength="19.1" lengthAdjust="spacingAndGlyphs">Dec</text>
<text x="687.4" y="811.9" font-size="12" fill="#3a3d49" font-weight="bold" textLength="26.7" lengthAdjust="spacingAndGlyphs">2024</text>
<text x="830.8" y="811.9" font-size="12" fill="#4c4f5c" textLength="19.2" lengthAdjust="spacingAndGlyphs">Feb</text>
<text x="957.8" y="811.9" font-size="12" fill="#4c4f5c" textLength="19.4" lengthAdjust="spacingAndGlyphs">Mar</text>
<text x="1086.1" y="811.9" font-size="12" fill="#4c4f5c" textLength="18.3" lengthAdjust="spacingAndGlyphs">Apr</text>
<text x="1218.3" y="811.9" font-size="12" fill="#4c4f5c" textLength="20.4" lengthAdjust="spacingAndGlyphs">May</text>
<text x="1358.8" y="811.9" font-size="12" fill="#4c4f5c" textLength="18.3" lengthAdjust="spacingAndGlyphs">Jun</text>
<line x1="1455.5" x2="1455.5" y1="27.5" y2="821.5" stroke="#44475a" stroke-width="1.1"/>
<text x="1462.6" y="93.7" font-size="12" fill="#4c4f5c" textLength="42.4" lengthAdjust="spacingAndGlyphs">0.68500</text>
<text x="1462.6" y="138.8" font-size="12" fill="#4c4f5c" textLength="42.4" lengthAdjust="spacingAndGlyphs">0.68000</text>
<text x="1462.6" y="183.9" font-size="12" fill="#4c4f5c" textLength="42.4" lengthAdjust="spacingAndGlyphs">0.67500</text>
<text x="1462.6" y="228.9" font-size="12" fill="#4c4f5c" textLength="42.4" lengthAdjust="spacingAndGlyphs">0.67000</text>
<text x="1462.6" y="274.0" font-size="12" fill="#4c4f5c" textLength="42.4" lengthAdjust="spacingAndGlyphs">0.66500</text>
<text x="1462.6" y="319.1" font-size="12" fill="#4c4f5c" textLength="42.4" lengthAdjust="spacingAndGlyphs">0.66000</text>
<text x="1462.6" y="364.2" font-size="12" fill="#4c4f5c" textLength="42.4" lengthAdjust="spacingAndGlyphs">0.65500</text>
<text x="1462.6" y="409.1" font-size="12" fill="#4c4f5c" textLength="42.4" lengthAdjust="spacingAndGlyphs">0.65000</text>
<text x="1462.6" y="454.8" font-size="12" fill="#4c4f5c" textLength="42.4" lengthAdjust="spacingAndGlyphs">0.64500</text>
<text x="1462.6" y="500.0" font-size="12" fill="#4c4f5c" textLength="42.4" lengthAdjust="spacingAndGlyphs">0.64000</text>
<text x="1462.6" y="545.3" font-size="12" fill="#4c4f5c" textLength="42.4" lengthAdjust="spacingAndGlyphs">0.63500</text>
<text x="1462.6" y="589.9" font-size="12" fill="#4c4f5c" textLength="42.4" lengthAdjust="spacingAndGlyphs">0.63000</text>
<text x="1462.6" y="634.9" font-size="12" fill="#4c4f5c" textLength="42.4" lengthAdjust="spacingAndGlyphs">0.62500</text>
<text x="1462.6" y="679.9" font-size="12" fill="#4c4f5c" textLength="42.4" lengthAdjust="spacingAndGlyphs">0.62000</text>
<rect x="1458.5" y="31" width="56" height="26" rx="4" fill="#fff" stroke="#e0e3eb" stroke-width="1.2"/>
<text x="1468.2" y="49.2" font-size="12" fill="#2a2d38" textLength="20" lengthAdjust="spacingAndGlyphs">USD</text>
<rect x="1455" y="311.1" width="55.799999999999955" height="17.19999999999999" rx="2" fill="#000"/>
<text x="1462.6" y="324.0" font-size="12" fill="#fff" textLength="42" lengthAdjust="spacingAndGlyphs" stroke="#fff" stroke-width="0.3">0.65802</text>
<rect x="1455" y="327.8" width="55.799999999999955" height="17.099999999999966" rx="2" fill="#000"/>
<text x="1462.6" y="340.7" font-size="12" fill="#fff" textLength="42" lengthAdjust="spacingAndGlyphs" stroke="#fff" stroke-width="0.3">0.65770</text>
<rect x="1454.95" y="353.2" width="55.84999999999991" height="16.80000000000001" rx="2" fill="#3333ff"/>
<text x="1462.6" y="365.9" font-size="12" fill="#fff" textLength="42" lengthAdjust="spacingAndGlyphs" stroke="#fff" stroke-width="0.3">0.65303</text>
<rect x="1453.6" y="353.2" width="1.400000000000091" height="16.80000000000001" fill="#fff"/>
<rect x="1403.2" y="353.2" width="50.59999999999991" height="16.80000000000001" rx="2" fill="#3333ff"/>
<text x="1407.9" y="365.9" font-size="12" fill="#fff" textLength="41.3" lengthAdjust="spacingAndGlyphs" stroke="#fff" stroke-width="0.3">SMA:MA</text>
<rect x="1454.95" y="370" width="55.84999999999991" height="16.80000000000001" rx="2" fill="#f23645"/>
<text x="1462.6" y="382.7" font-size="12" fill="#fff" textLength="42" lengthAdjust="spacingAndGlyphs" stroke="#fff" stroke-width="0.3">0.65301</text>
<rect x="1453.6" y="370" width="1.400000000000091" height="16.80000000000001" fill="#fff"/>
<rect x="1403.2" y="370" width="50.59999999999991" height="16.80000000000001" rx="2" fill="#f23645"/>
<text x="1407.9" y="382.7" font-size="12" fill="#fff" textLength="41.3" lengthAdjust="spacingAndGlyphs" stroke="#fff" stroke-width="0.3">SMA:MA</text>
<rect x="1455" y="434.1" width="55.799999999999955" height="16.69999999999999" rx="2" fill="#000"/>
<text x="1462.6" y="446.8" font-size="12" fill="#fff" textLength="42" lengthAdjust="spacingAndGlyphs" stroke="#fff" stroke-width="0.3">0.64586</text>
<rect x="1454.95" y="454.9" width="60.05" height="31.1" rx="2" fill="#26a69a"/>
<text x="1462.6" y="467.8" font-size="12" fill="#fff" textLength="42" lengthAdjust="spacingAndGlyphs">0.64357</text>
<text x="1463.6" y="481.6" font-size="12" fill="#c5e8e4" textLength="45.8" lengthAdjust="spacingAndGlyphs">12:13:08</text>
<rect x="1453.6" y="454.9" width="1.400000000000091" height="17.0" fill="#fff"/>
<rect x="1401" y="454.9" width="52.799999999999955" height="17.0" rx="2" fill="#26a69a"/>
<text x="1406" y="467.7" font-size="12" fill="#fff" textLength="43.2" lengthAdjust="spacingAndGlyphs" stroke="#fff" stroke-width="0.3">AUDUSD</text>
<rect x="1455" y="520.2" width="55.799999999999955" height="16.59999999999991" rx="2" fill="#ff9800"/>
<text x="1462.6" y="532.8" font-size="12" fill="#131722" textLength="42" lengthAdjust="spacingAndGlyphs">0.63633</text>
<rect x="1455" y="601.9" width="55.799999999999955" height="16.800000000000068" rx="2" fill="#000"/>
<text x="1462.6" y="614.6" font-size="12" fill="#fff" textLength="42" lengthAdjust="spacingAndGlyphs" stroke="#fff" stroke-width="0.3">0.62724</text>
<rect x="1455" y="235" width="55.799999999999955" height="16.80000000000001" rx="2" fill="#f23645"/>
<text x="1462.6" y="247.7" font-size="12" fill="#fff" textLength="42" lengthAdjust="spacingAndGlyphs" stroke="#fff" stroke-width="0.3">0.66800</text>
<rect x="1362.2" y="713" width="136" height="17" fill="#fff"/>
<text x="1366.6" y="725.3" font-size="12" fill="#131722" textLength="81.7" lengthAdjust="spacingAndGlyphs">Regular Bearish</text>
<text x="1463" y="725.5" font-size="12" fill="#131722" textLength="29" lengthAdjust="spacingAndGlyphs">61.39</text>
<rect x="1453.5" y="735" width="1.5" height="16.700000000000045" fill="#fff"/>
<rect x="1374" y="735" width="79.70000000000005" height="16.700000000000045" rx="2" fill="#ffeb3b"/>
<text x="1378.7" y="747.6" font-size="12" fill="#131722" textLength="70" lengthAdjust="spacingAndGlyphs">RSI-based MA</text>
<rect x="1454.95" y="735" width="42.649999999999864" height="16.700000000000045" rx="2" fill="#ffeb3b"/>
<text x="1462.8" y="747.6" font-size="12" fill="#131722" textLength="29" lengthAdjust="spacingAndGlyphs">46.11</text>
<rect x="1453.5" y="752.2" width="1.5" height="16.5" fill="#fff"/>
<rect x="1428.2" y="752.2" width="25.5" height="16.5" rx="2" fill="#7e57c2"/>
<text x="1433.2" y="764.8" font-size="12" fill="#fff" textLength="15" lengthAdjust="spacingAndGlyphs" stroke="#fff" stroke-width="0.3">RSI</text>
<rect x="1454.95" y="752.2" width="42.649999999999864" height="16.5" rx="2" fill="#7e57c2"/>
<text x="1462.8" y="764.8" font-size="12" fill="#fff" textLength="29" lengthAdjust="spacingAndGlyphs" stroke="#fff" stroke-width="0.3">40.99</text>
<rect x="1362.2" y="769.6" width="136" height="16.8" fill="#fff"/>
<text x="1370.7" y="780.9" font-size="12" fill="#131722" textLength="77.5" lengthAdjust="spacingAndGlyphs">Regular Bullish</text>
<text x="1462.8" y="780.9" font-size="12" fill="#131722" textLength="29" lengthAdjust="spacingAndGlyphs">40.02</text>
<g fill="#1a1e2a"><path d="M9.9 834.2H17.8V843.7H14.1V838H9.9Z"/><circle cx="21.05" cy="836.2" r="1.95"/><path d="M25.2 834.2H29.6L25.9 843.7H21.2Z"/></g>
<text x="33.2" y="843.7" font-size="12.4" fill="#2a2e39" textLength="69.8" lengthAdjust="spacingAndGlyphs">TradingView</text>
<filter id="ws" x="-5%" y="-10%" width="110%" height="125%" color-interpolation-filters="sRGB"><feOffset in="SourceAlpha" dx="2.5" dy="2.2" result="o"/><feComposite in="o" in2="SourceAlpha" operator="out" result="sh"/><feFlood flood-color="#2e2e2e" flood-opacity="1"/><feComposite in2="sh" operator="in" result="shc"/><feMerge><feMergeNode in="shc"/><feMergeNode in="SourceGraphic"/></feMerge></filter>
<g font-family='"Liberation Sans","Noto Sans CJK SC",sans-serif' font-weight="900" font-size="58" transform="translate(1275,814) skewX(-14)" opacity="0.7" filter="url(#ws)"><text x="0" y="0" fill="#fff" textLength="252" lengthAdjust="spacingAndGlyphs">海马财经</text></g>
<filter id="ts" x="-5%" y="-20%" width="110%" height="150%" color-interpolation-filters="sRGB"><feOffset in="SourceAlpha" dx="1" dy="1.2" result="o"/><feFlood flood-color="#62aaa2"/><feComposite in2="o" operator="in" result="sh"/><feMerge><feMergeNode in="sh"/><feMergeNode in="SourceGraphic"/></feMerge></filter>
<g font-weight="bold" font-style="italic" font-size="31" transform="translate(1295,852) scale(1.3,1)" stroke-linejoin="round" filter="url(#ts)"><text x="0" y="0" fill="#8ecdc6" stroke="#8ecdc6" stroke-width="1.1" textLength="171.5" lengthAdjust="spacing">zzrt01.cn</text></g>
</g>
</svg>
</body></html>
